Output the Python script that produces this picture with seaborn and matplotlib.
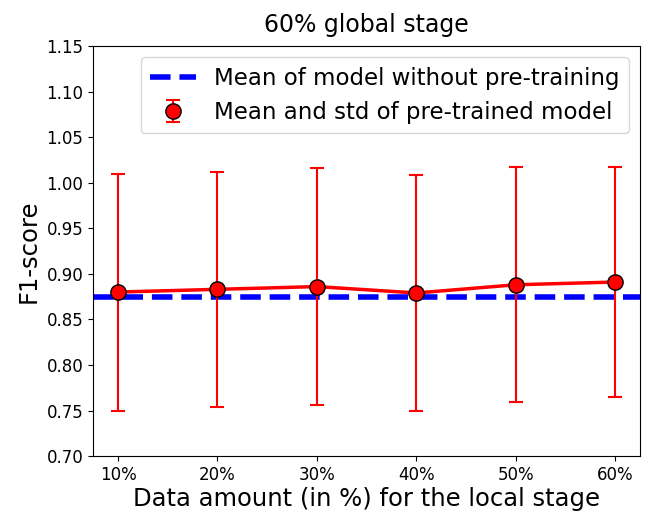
import numpy as np
import pandas as pd
import matplotlib
matplotlib.use('Agg')
import matplotlib.pyplot as plt
import seaborn as sns

## data
local_amount = ['10%', '20%', '30%', '40%', '50%', '60%']
mean_pretrained = [0.880, 0.883, 0.886, 0.879, 0.888, 0.891]
std_pretrained = [0.130, 0.129, 0.130, 0.129, 0.129, 0.126]
mean_no_pretrain = 0.875

sns.set_style("ticks", {'text.color': 'black', 'axes.labelcolor': 'black',
                        'xtick.color': 'black', 'ytick.color': 'black',
                        'axes.edgecolor': 'black'})
plt.rcParams['font.family'] = ['DejaVu Sans']

df = pd.DataFrame({'x': np.arange(len(local_amount)), 'mean': mean_pretrained, 'std': std_pretrained})

fig = plt.figure(figsize=(6.56, 5.16), dpi=100)
ax = fig.add_axes([0.142, 0.116, 0.834, 0.795])

ax.axhline(mean_no_pretrain, color='blue', linestyle='--', linewidth=4, label='Mean of model without pre-training')
sns.lineplot(data=df, x='x', y='mean', color='red', linewidth=2.5, ax=ax, zorder=2)
ax.errorbar(df['x'], df['mean'], yerr=df['std'], fmt='o', color='red', ecolor='red',
            markerfacecolor='red', markeredgecolor='black', markersize=11, capsize=5,
            elinewidth=1.5, capthick=1.5, label='Mean and std of pre-trained model', zorder=3)

ax.set_xlim(-0.25, 5.25)
ax.set_ylim(0.70, 1.15)
ax.set_yticks(np.arange(0.70, 1.151, 0.05))
ax.set_xticks(df['x'])
ax.set_xticklabels(local_amount)
ax.tick_params(labelsize=12)
ax.set_title('60% global stage', fontsize=17, pad=10)
ax.set_xlabel('Data amount (in %) for the local stage', fontsize=17.5, labelpad=2)
ax.set_ylabel('F1-score', fontsize=17.5)
ax.legend(loc='upper right', fontsize=16.5)

fig.savefig('out.png', dpi=100)
